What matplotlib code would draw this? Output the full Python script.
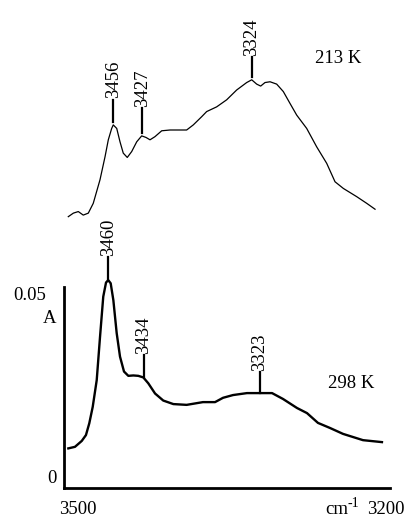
import matplotlib
matplotlib.use("Agg")
import matplotlib.pyplot as plt

plt.rcParams['font.family'] = ['Liberation Serif', 'DejaVu Serif']

# 213 K spectrum (upper trace), wavenumber in cm-1, absorbance offset units
wn_213 = [3498.2, 3493.4, 3488.7, 3484.0, 3479.2, 3474.5, 3468.1, 3463.3, 3460.2, 3457.0,
          3455.5, 3452.2, 3449.1, 3446.0, 3442.2, 3438.0, 3433.2, 3428.5, 3424.4, 3420.6,
          3415.9, 3409.5, 3401.6, 3385.8, 3379.5, 3371.5, 3366.8, 3357.3, 3347.8, 3338.3,
          3328.8, 3324.0, 3319.3, 3315.5, 3311.4, 3306.6, 3300.3, 3294.0, 3287.7, 3281.3,
          3271.8, 3262.3, 3252.8, 3244.9, 3237.0, 3224.3, 3214.8, 3206.9]
abs_213 = [0.0034, 0.0043, 0.0047, 0.0038, 0.0043, 0.0068, 0.0128, 0.0187, 0.0230, 0.0259,
           0.0268, 0.0259, 0.0225, 0.0196, 0.0185, 0.0200, 0.0225, 0.0240, 0.0236, 0.0230,
           0.0238, 0.0253, 0.0255, 0.0255, 0.0268, 0.0289, 0.0302, 0.0314, 0.0332, 0.0357,
           0.0376, 0.0383, 0.0372, 0.0367, 0.0376, 0.0378, 0.0372, 0.0353, 0.0323, 0.0293,
           0.0259, 0.0212, 0.0170, 0.0123, 0.0106, 0.0085, 0.0068, 0.0053]

# 298 K spectrum (lower trace)
wn_298 = [3496.1, 3490.1, 3484.0, 3480.2, 3477.2, 3474.1, 3470.5, 3467.5, 3464.6, 3462.1,
          3460.1, 3457.9, 3455.5, 3452.5, 3449.5, 3445.9, 3442.0, 3437.5, 3433.0, 3428.5,
          3424.0, 3417.9, 3410.5, 3401.4, 3389.4, 3374.7, 3363.8, 3356.6, 3347.6, 3335.0,
          3323.3, 3312.4, 3302.5, 3289.9, 3280.9, 3271.0, 3260.1, 3248.4, 3230.4, 3213.3]
abs_298 = [0.0101, 0.0105, 0.0120, 0.0135, 0.0165, 0.0207, 0.0275, 0.0386, 0.0488, 0.0524,
           0.0530, 0.0522, 0.0479, 0.0395, 0.0335, 0.0297, 0.0286, 0.0287, 0.0286, 0.0282,
           0.0267, 0.0241, 0.0223, 0.0214, 0.0212, 0.0219, 0.0219, 0.0230, 0.0237, 0.0242,
           0.0242, 0.0242, 0.0227, 0.0204, 0.0191, 0.0166, 0.0153, 0.0138, 0.0122, 0.0117]

# peak markers: position on the trace, bottom and top of marker line, label
peaks_213_pos = [3455.5, 3427.9, 3324.0]
peaks_213_base = [0.0276, 0.0247, 0.0390]
peaks_213_top = [0.0332, 0.0311, 0.0441]
peaks_213_labels = ["3456", "3427", "3324"]

peaks_298_pos = [3460.1, 3427.9, 3323.3]
peaks_298_base = [0.0530, 0.0283, 0.0242]
peaks_298_top = [0.0589, 0.0339, 0.0296]
peaks_298_labels = ["3460", "3434", "3323"]

W, H = 404, 519
FS = 13.5


def fx(px):
    return px / W


def fy(py):
    return 1 - py / H


def mark_peaks(ax, pos, base, top, labels):
    for p, b, t, lab in zip(pos, base, top, labels):
        ax.plot([p, p], [b, t], color='black', lw=1.6, clip_on=False)
        ax.annotate(lab, (p, t), xytext=(0, 1), textcoords='offset points',
                    rotation=90, ha='center', va='bottom', fontsize=FS,
                    annotation_clip=False)


def main():
    fig = plt.figure(figsize=(W / 100, H / 100), dpi=100)

    # upper spectrum, no axes drawn
    ax_top = fig.add_axes([fx(66.4), fy(230), fx(390 - 66.4), 230 / H])
    ax_top.plot(wn_213, abs_213, color='black', lw=0.9, clip_on=False,
                solid_joinstyle='round')
    ax_top.set_xlim(3500, 3500 - 323.6 / 1.053)
    ax_top.set_ylim(0, 230 * 0.000255)
    ax_top.axis('off')
    mark_peaks(ax_top, peaks_213_pos, peaks_213_base, peaks_213_top, peaks_213_labels)

    # lower spectrum with the A / cm-1 axes
    ax = fig.add_axes([fx(64), fy(488), fx(390 - 64), (488 - 287) / H])
    ax.plot(wn_298, abs_298, color='black', lw=1.7, clip_on=False,
            solid_joinstyle='round')
    ax.set_xlim(3500, 3500 - 326 / 1.109)
    ax.set_ylim(0, 201 * 0.000255)
    for side in ['top', 'right']:
        ax.spines[side].set_visible(False)
    for side in ['left', 'bottom']:
        ax.spines[side].set_linewidth(2.0)
    ax.set_xticks([])
    ax.set_yticks([])
    ax.patch.set_alpha(0)
    mark_peaks(ax, peaks_298_pos, peaks_298_base, peaks_298_top, peaks_298_labels)

    fig.text(fx(315), fy(63), "213 K", fontsize=FS, va='baseline')
    fig.text(fx(328), fy(388), "298 K", fontsize=FS, va='baseline')
    fig.text(fx(13), fy(300), "0.05", fontsize=FS, va='baseline')
    fig.text(fx(43), fy(323), "A", fontsize=FS, va='baseline')
    fig.text(fx(47), fy(483), "0", fontsize=FS, va='baseline')
    fig.text(fx(59), fy(514), "3500", fontsize=FS, va='baseline')
    fig.text(fx(325), fy(514), "cm", fontsize=FS, va='baseline')
    fig.text(fx(348), fy(507), "-1", fontsize=FS * 0.75, va='baseline')
    fig.text(fx(367), fy(514), "3200", fontsize=FS, va='baseline')

    fig.savefig("out.png", dpi=100)


if __name__ == "__main__":
    main()
